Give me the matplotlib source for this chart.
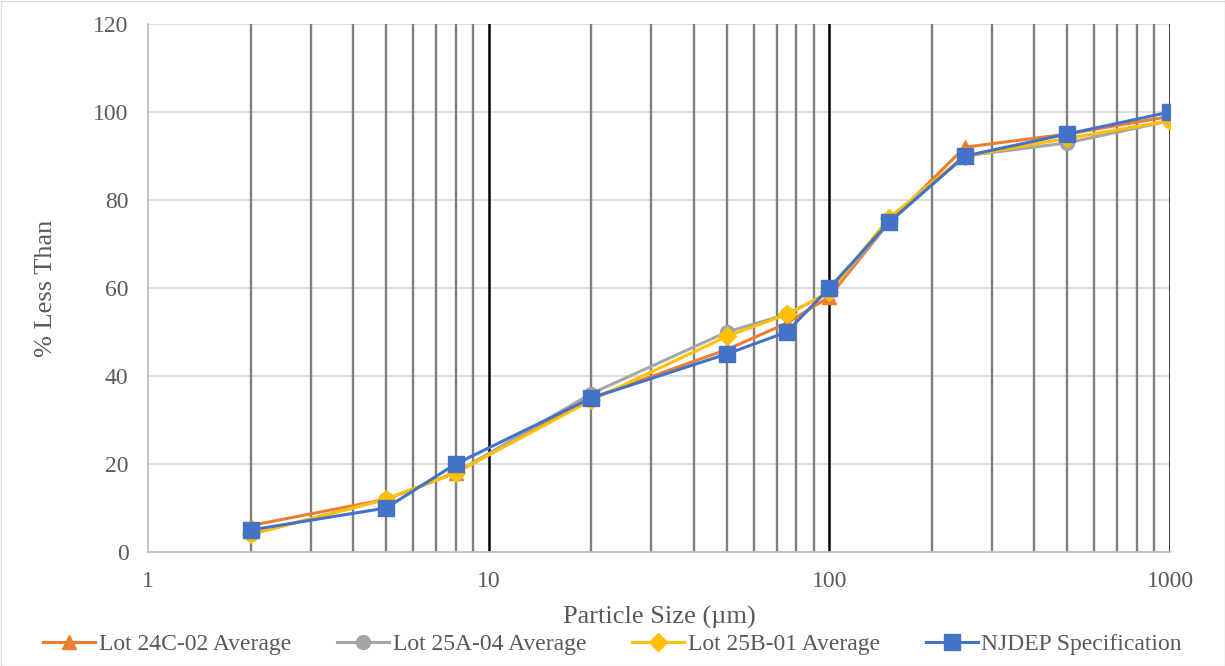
import matplotlib.pyplot as plt
from matplotlib.patches import Rectangle
from matplotlib.ticker import FixedLocator, NullFormatter

# -----------------------------
# Data
# -----------------------------
sizes_um = [2, 5, 8, 20, 50, 75, 100, 150, 250, 500, 1000]
lot_24c_02 = [6, 12, 18, 35, 46, 52, 58, 75, 92, 95, 99]
lot_25a_04 = [4, 12, 18, 36, 50, 54, 59, 75, 90, 93, 98]
lot_25b_01 = [4, 12, 18, 34.5, 49, 54, 59, 76, 90, 94, 98]
njdep_spec = [5, 10, 20, 35, 45, 50, 60, 75, 90, 95, 100]

series_labels = ["Lot 24C-02 Average", "Lot 25A-04 Average",
                 "Lot 25B-01 Average", "NJDEP Specification"]
series_colors = ["#ED7D31", "#A5A5A5", "#FFC000", "#4472C4"]
series_markers = ["^", "o", "D", "s"]
series_msize = [10, 10, 9, 11]

major_x = [1, 10, 100, 1000]
minor_x = [2, 3, 4, 5, 6, 7, 8, 9, 20, 30, 40, 50, 60, 70, 80, 90,
           200, 300, 400, 500, 600, 700, 800, 900]
y_ticks = [0, 20, 40, 60, 80, 100, 120]

plt.rcParams["font.family"] = ["Liberation Serif", "DejaVu Serif"]

fig = plt.figure(figsize=(12.25, 6.66), dpi=100)
ax = fig.add_axes([148 / 1225, 114 / 666, 1022 / 1225, 528 / 666])

# gridlines
for y in y_ticks[1:]:
    ax.axhline(y, color="#D9D9D9", lw=1.3, zorder=0)
for x in minor_x:
    ax.axvline(x, color="#7F7F7F", lw=1.7, zorder=1)
for x in major_x[1:]:
    ax.axvline(x, color="#000000", lw=1.8, zorder=1)

all_series = [lot_24c_02, lot_25a_04, lot_25b_01, njdep_spec]
for vals, lab, col, mk, ms in zip(all_series, series_labels, series_colors,
                                  series_markers, series_msize):
    ax.plot(sizes_um, vals, color=col, lw=2.2, marker=mk, markersize=ms,
            markeredgecolor=col, label=lab, zorder=3)

ax.set_xscale("log")
ax.set_xlim(1, 1000)
ax.set_ylim(0, 120)
ax.xaxis.set_major_locator(FixedLocator(major_x))
ax.xaxis.set_major_formatter(plt.FuncFormatter(lambda v, p: f"{v:g}"))
ax.xaxis.set_minor_locator(FixedLocator(minor_x))
ax.xaxis.set_minor_formatter(NullFormatter())
ax.set_yticks(y_ticks)

for s in ["top", "right"]:
    ax.spines[s].set_visible(False)
for s in ["bottom", "left"]:
    ax.spines[s].set_color("#BFBFBF")
    ax.spines[s].set_linewidth(1.3)
    ax.spines[s].set_zorder(2)

ax.tick_params(axis="both", which="both", length=0, labelsize=17,
               labelcolor="#595959")
ax.tick_params(axis="x", pad=14)
ax.tick_params(axis="y", pad=14)

ax.set_xlabel("Particle Size (µm)", fontsize=19, color="#595959", labelpad=10)
ax.set_ylabel("% Less Than", fontsize=19, color="#595959", labelpad=26)

handles, labels = ax.get_legend_handles_labels()
fig.legend(handles, labels, loc="center", bbox_to_anchor=(0.5, 22 / 666),
           ncol=4, frameon=False, fontsize=17, handlelength=2.2,
           columnspacing=1.95, handletextpad=0.15, labelcolor="#595959",
           borderaxespad=0, borderpad=0)

fig.patches.append(Rectangle((0.5 / 1225, 0.5 / 666), 1 - 1 / 1225, 1 - 1 / 666,
                             transform=fig.transFigure, fill=False,
                             edgecolor="#D9D9D9", lw=1))

fig.savefig("out.png", dpi=100)
